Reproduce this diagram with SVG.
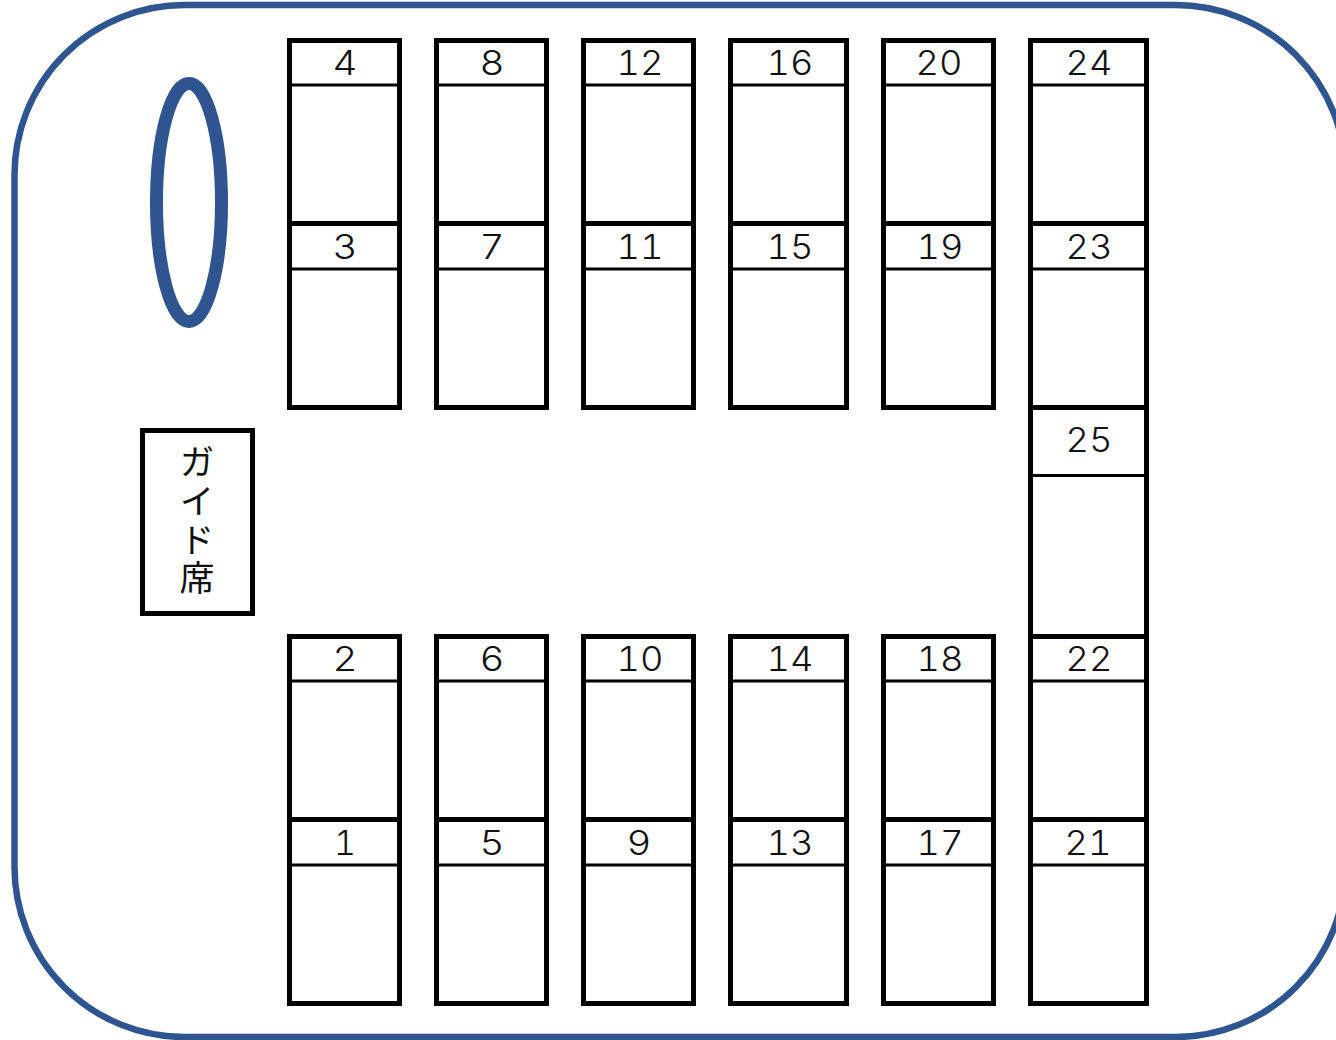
<svg xmlns="http://www.w3.org/2000/svg" width="1336" height="1040" viewBox="0 0 1336 1040">
<style>
.b{fill:none;stroke:#000;stroke-width:5}
.h{stroke:#000;stroke-width:3}
.n{font-family:"Inter","Liberation Sans",sans-serif;font-weight:300;font-size:34px;fill:#111;text-anchor:middle;font-feature-settings:"tnum"}
.g{font-family:"Noto Sans CJK JP",sans-serif;font-weight:400;font-size:35px;fill:#111;writing-mode:vertical-rl;letter-spacing:3.7px}
.f{fill:none;stroke:#2f5590}
</style>
<rect width="1336" height="1040" fill="#fff"/>
<g id="bus"><rect class="f" stroke-width="6.5" x="14.5" y="5" width="1331" height="1032" rx="170" ry="170"/></g>
<g id="door"><ellipse class="f" stroke-width="13" cx="189" cy="202.5" rx="32.5" ry="119"/></g>
<g id="guide"><rect class="b" x="142.5" y="430.5" width="110" height="183"/>
<text class="g" x="197" y="444.5">ガイド席</text></g>
<g id="seats" lengthAdjust="spacingAndGlyphs">
<g id="seat4"><rect class="b" x="289.5" y="40.5" width="110" height="183"/><line class="h" x1="289" x2="400" y1="85" y2="85"/><text class="n" x="345" y="75" textLength="25" lengthAdjust="spacingAndGlyphs">4</text></g>
<g id="seat3"><rect class="b" x="289.5" y="223.5" width="110" height="184"/><line class="h" x1="289" x2="400" y1="269" y2="269"/><text class="n" x="345" y="259" textLength="25" lengthAdjust="spacingAndGlyphs">3</text></g>
<g id="seat8"><rect class="b" x="436.5" y="40.5" width="110" height="183"/><line class="h" x1="436" x2="547" y1="85" y2="85"/><text class="n" x="492" y="75" textLength="25" lengthAdjust="spacingAndGlyphs">8</text></g>
<g id="seat7"><rect class="b" x="436.5" y="223.5" width="110" height="184"/><line class="h" x1="436" x2="547" y1="269" y2="269"/><text class="n" x="492" y="259" textLength="25" lengthAdjust="spacingAndGlyphs">7</text></g>
<g id="seat12"><rect class="b" x="583.5" y="40.5" width="110" height="183"/><line class="h" x1="583" x2="694" y1="85" y2="85"/><text class="n" x="640" y="75" textLength="47" lengthAdjust="spacingAndGlyphs">12</text></g>
<g id="seat11"><rect class="b" x="583.5" y="223.5" width="110" height="184"/><line class="h" x1="583" x2="694" y1="269" y2="269"/><text class="n" x="640" y="259" textLength="47" lengthAdjust="spacingAndGlyphs">11</text></g>
<g id="seat16"><rect class="b" x="730.5" y="40.5" width="116" height="183"/><line class="h" x1="730" x2="847" y1="85" y2="85"/><text class="n" x="790" y="75" textLength="47" lengthAdjust="spacingAndGlyphs">16</text></g>
<g id="seat15"><rect class="b" x="730.5" y="223.5" width="116" height="184"/><line class="h" x1="730" x2="847" y1="269" y2="269"/><text class="n" x="790" y="259" textLength="47" lengthAdjust="spacingAndGlyphs">15</text></g>
<g id="seat20"><rect class="b" x="883.5" y="40.5" width="110" height="183"/><line class="h" x1="883" x2="994" y1="85" y2="85"/><text class="n" x="939" y="75" textLength="47" lengthAdjust="spacingAndGlyphs">20</text></g>
<g id="seat19"><rect class="b" x="883.5" y="223.5" width="110" height="184"/><line class="h" x1="883" x2="994" y1="269" y2="269"/><text class="n" x="940" y="259" textLength="47" lengthAdjust="spacingAndGlyphs">19</text></g>
<g id="seat24"><rect class="b" x="1030.5" y="40.5" width="116" height="183"/><line class="h" x1="1030" x2="1147" y1="85" y2="85"/><text class="n" x="1089" y="75" textLength="47" lengthAdjust="spacingAndGlyphs">24</text></g>
<g id="seat23"><rect class="b" x="1030.5" y="223.5" width="116" height="184"/><line class="h" x1="1030" x2="1147" y1="269" y2="269"/><text class="n" x="1089" y="259" textLength="47" lengthAdjust="spacingAndGlyphs">23</text></g>
<g id="seat25"><rect class="b" x="1030.5" y="407.5" width="116" height="229"/><line class="h" x1="1030" x2="1147" y1="475.5" y2="475.5"/><text class="n" x="1089" y="452" textLength="47" lengthAdjust="spacingAndGlyphs">25</text></g>
<g id="seat2"><rect class="b" x="289.5" y="636.5" width="110" height="183"/><line class="h" x1="289" x2="400" y1="681" y2="681"/><text class="n" x="345" y="671" textLength="25" lengthAdjust="spacingAndGlyphs">2</text></g>
<g id="seat1"><rect class="b" x="289.5" y="819.5" width="110" height="184"/><line class="h" x1="289" x2="400" y1="865" y2="865"/><text class="n" x="345" y="855">1</text></g>
<g id="seat6"><rect class="b" x="436.5" y="636.5" width="110" height="183"/><line class="h" x1="436" x2="547" y1="681" y2="681"/><text class="n" x="492" y="671" textLength="25" lengthAdjust="spacingAndGlyphs">6</text></g>
<g id="seat5"><rect class="b" x="436.5" y="819.5" width="110" height="184"/><line class="h" x1="436" x2="547" y1="865" y2="865"/><text class="n" x="492" y="855" textLength="25" lengthAdjust="spacingAndGlyphs">5</text></g>
<g id="seat10"><rect class="b" x="583.5" y="636.5" width="110" height="183"/><line class="h" x1="583" x2="694" y1="681" y2="681"/><text class="n" x="640" y="671" textLength="47" lengthAdjust="spacingAndGlyphs">10</text></g>
<g id="seat9"><rect class="b" x="583.5" y="819.5" width="110" height="184"/><line class="h" x1="583" x2="694" y1="865" y2="865"/><text class="n" x="639" y="855" textLength="25" lengthAdjust="spacingAndGlyphs">9</text></g>
<g id="seat14"><rect class="b" x="730.5" y="636.5" width="116" height="183"/><line class="h" x1="730" x2="847" y1="681" y2="681"/><text class="n" x="790" y="671" textLength="47" lengthAdjust="spacingAndGlyphs">14</text></g>
<g id="seat13"><rect class="b" x="730.5" y="819.5" width="116" height="184"/><line class="h" x1="730" x2="847" y1="865" y2="865"/><text class="n" x="790" y="855" textLength="47" lengthAdjust="spacingAndGlyphs">13</text></g>
<g id="seat18"><rect class="b" x="883.5" y="636.5" width="110" height="183"/><line class="h" x1="883" x2="994" y1="681" y2="681"/><text class="n" x="940" y="671" textLength="47" lengthAdjust="spacingAndGlyphs">18</text></g>
<g id="seat17"><rect class="b" x="883.5" y="819.5" width="110" height="184"/><line class="h" x1="883" x2="994" y1="865" y2="865"/><text class="n" x="940" y="855" textLength="47" lengthAdjust="spacingAndGlyphs">17</text></g>
<g id="seat22"><rect class="b" x="1030.5" y="636.5" width="116" height="183"/><line class="h" x1="1030" x2="1147" y1="681" y2="681"/><text class="n" x="1089" y="671" textLength="47" lengthAdjust="spacingAndGlyphs">22</text></g>
<g id="seat21"><rect class="b" x="1030.5" y="819.5" width="116" height="184"/><line class="h" x1="1030" x2="1147" y1="865" y2="865"/><text class="n" x="1088" y="855" textLength="47" lengthAdjust="spacingAndGlyphs">21</text></g>
</g>
<g id="connectors"/>
</svg>
